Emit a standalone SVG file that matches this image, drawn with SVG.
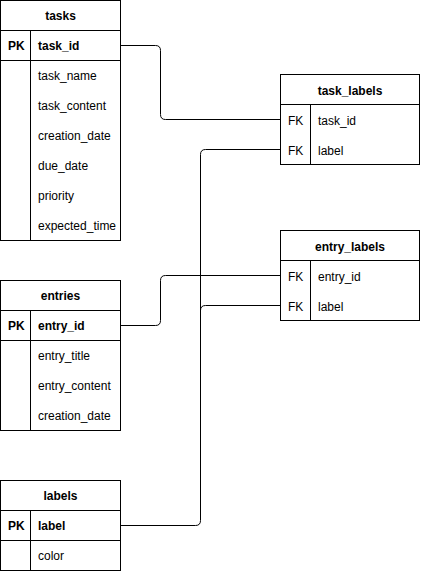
<svg xmlns="http://www.w3.org/2000/svg" width="421" height="572" viewBox="0 0 421 572">
<style>
.box{fill:#fff;stroke:#000;stroke-width:1}
.ln{fill:none;stroke:#000;stroke-width:1}
text{font-family:"Liberation Sans",Arial,sans-serif;font-size:12px;fill:#000}
.h{font-weight:bold;text-anchor:middle}
.b{font-weight:bold}
</style>
<rect width="421" height="572" fill="#fff"/>
<g id="connectors">
<path class="ln" d="M120.5 45.5 H155.5 Q160.5 45.5 160.5 50.5 V114.5 Q160.5 119.5 165.5 119.5 H280.5"/>
<path class="ln" d="M120.5 525.5 H195.5 Q200.5 525.5 200.5 520.5 V154.5 Q200.5 149.5 205.5 149.5 H280.5"/>
<path class="ln" d="M120.5 325.5 H155.5 Q160.5 325.5 160.5 320.5 V280.5 Q160.5 275.5 165.5 275.5 H280.5"/>
<path class="ln" d="M200.5 310.5 Q200.5 305.5 205.5 305.5 H280.5"/>
</g>
<g id="tasks">
<rect class="box" x="0.5" y="0.5" width="120" height="240"/>
<path class="ln" d="M0.5 30.5 H120.5 M0.5 60.5 H120.5 M30.5 30.5 V240.5"/>
<text class="h" x="60.5" y="20">tasks</text>
<text class="b" x="8" y="50">PK</text>
<text class="b" x="38" y="50">task_id</text>
<text x="38" y="80">task_name</text>
<text x="38" y="110">task_content</text>
<text x="38" y="140">creation_date</text>
<text x="38" y="170">due_date</text>
<text x="38" y="200">priority</text>
<text x="38" y="230">expected_time</text>
</g>
<g id="task_labels">
<rect class="box" x="280.5" y="74.5" width="139" height="90"/>
<path class="ln" d="M280.5 104.5 H419.5 M310.5 104.5 V164.5"/>
<text class="h" x="350" y="95">task_labels</text>
<text x="288" y="125">FK</text>
<text x="318" y="125">task_id</text>
<text x="288" y="155">FK</text>
<text x="318" y="155">label</text>
</g>
<g id="entry_labels">
<rect class="box" x="280.5" y="230.5" width="139" height="90"/>
<path class="ln" d="M280.5 260.5 H419.5 M310.5 260.5 V320.5"/>
<text class="h" x="350" y="251">entry_labels</text>
<text x="288" y="281">FK</text>
<text x="318" y="281">entry_id</text>
<text x="288" y="311">FK</text>
<text x="318" y="311">label</text>
</g>
<g id="entries">
<rect class="box" x="0.5" y="280.5" width="120" height="150"/>
<path class="ln" d="M0.5 310.5 H120.5 M0.5 340.5 H120.5 M30.5 310.5 V430.5"/>
<text class="h" x="60.5" y="300">entries</text>
<text class="b" x="8" y="330">PK</text>
<text class="b" x="38" y="330">entry_id</text>
<text x="38" y="360">entry_title</text>
<text x="38" y="390">entry_content</text>
<text x="38" y="420">creation_date</text>
</g>
<g id="labels">
<rect class="box" x="0.5" y="480.5" width="120" height="90"/>
<path class="ln" d="M0.5 510.5 H120.5 M0.5 540.5 H120.5 M30.5 510.5 V570.5"/>
<text class="h" x="60.5" y="500">labels</text>
<text class="b" x="8" y="530">PK</text>
<text class="b" x="38" y="530">label</text>
<text x="38" y="560">color</text>
</g>
</svg>
